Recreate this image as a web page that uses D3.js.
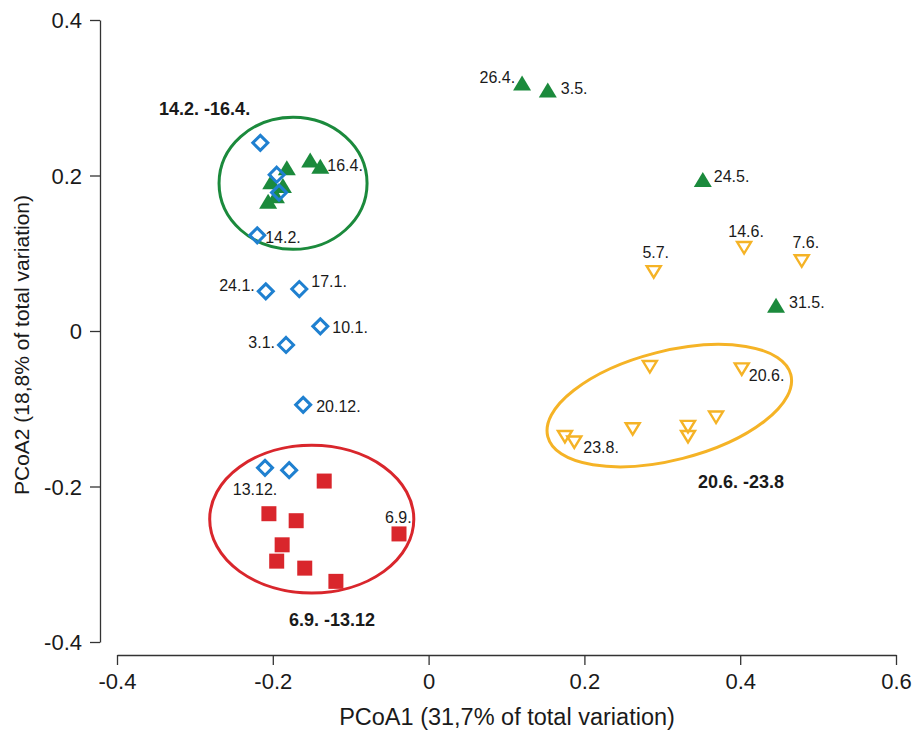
<!DOCTYPE html>
<html>
<head>
<meta charset="utf-8">
<script src="https://cdn.jsdelivr.net/npm/d3@7"></script>
<style>
  html, body { margin: 0; padding: 0; background: #fff; }
  svg { display: block; font-family: "Liberation Sans", Arial, sans-serif; }
</style>
</head>
<body>
<svg id="chart" width="914" height="735"></svg>
<script>
// ---------------- DATA ----------------
const xTicks = [-0.4, -0.2, 0, 0.2, 0.4, 0.6];
const yTicks = [-0.4, -0.2, 0, 0.2, 0.4];
const xTitle = "PCoA1 (31,7% of total variation)";
const yTitle = "PCoA2 (18,8% of total variation)";

// winter samples (blue open diamonds)
const winterPoints = [
  { x: -0.216, y: 0.242, label: "" },
  { x: -0.195, y: 0.201, label: "" },
  { x: -0.192, y: 0.178, label: "" },
  { x: -0.220, y: 0.123, label: "14.2." },
  { x: -0.209, y: 0.051, label: "24.1." },
  { x: -0.166, y: 0.054, label: "17.1." },
  { x: -0.139, y: 0.006, label: "10.1." },
  { x: -0.183, y: -0.018, label: "3.1." },
  { x: -0.161, y: -0.095, label: "20.12." },
  { x: -0.210, y: -0.176, label: "13.12." },
  { x: -0.179, y: -0.179, label: "" }
];

// spring samples (green filled triangles)
const springPoints = [
  { x: -0.182, y: 0.210, label: "" },
  { x: -0.152, y: 0.220, label: "" },
  { x: -0.139, y: 0.212, label: "16.4." },
  { x: -0.202, y: 0.192, label: "" },
  { x: -0.187, y: 0.187, label: "" },
  { x: -0.196, y: 0.174, label: "" },
  { x: -0.206, y: 0.167, label: "" },
  { x: 0.120, y: 0.319, label: "26.4." },
  { x: 0.153, y: 0.310, label: "3.5." },
  { x: 0.352, y: 0.195, label: "24.5." },
  { x: 0.446, y: 0.033, label: "31.5." }
];

// summer samples (yellow open down triangles)
const summerPoints = [
  { x: 0.289, y: 0.076, label: "5.7." },
  { x: 0.405, y: 0.107, label: "14.6." },
  { x: 0.479, y: 0.090, label: "7.6." },
  { x: 0.284, y: -0.046, label: "" },
  { x: 0.402, y: -0.049, label: "20.6." },
  { x: 0.369, y: -0.111, label: "" },
  { x: 0.262, y: -0.126, label: "" },
  { x: 0.333, y: -0.123, label: "" },
  { x: 0.333, y: -0.136, label: "" },
  { x: 0.175, y: -0.136, label: "" },
  { x: 0.187, y: -0.143, label: "23.8." }
];

// autumn samples (red filled squares)
const autumnPoints = [
  { x: -0.134, y: -0.193, label: "" },
  { x: -0.205, y: -0.235, label: "" },
  { x: -0.170, y: -0.244, label: "" },
  { x: -0.188, y: -0.275, label: "" },
  { x: -0.195, y: -0.296, label: "" },
  { x: -0.159, y: -0.305, label: "" },
  { x: -0.119, y: -0.322, label: "" },
  { x: -0.038, y: -0.261, label: "6.9." }
];

// cluster ellipses (centre, radii in data units, rotation in degrees)
const clusterEllipses = [
  { name: "spring", cx: -0.174, cy: 0.190, rx: 0.095, ry: 0.085, angle: 0 },
  { name: "autumn", cx: -0.150, cy: -0.242, rx: 0.131, ry: 0.095, angle: 0 },
  { name: "summer", cx: 0.309, cy: -0.096, rx: 0.161, ry: 0.070, angle: -14.3 }
];

// cluster titles
const clusterTitles = [
  { text: "14.2. -16.4.", x: -0.346, y: 0.278, anchor: "start" },
  { text: "6.9. -13.12", x: -0.124, y: -0.379, anchor: "middle" },
  { text: "20.6. -23.8", x: 0.401, y: -0.202, anchor: "middle" }
];

// ---------------- STYLE / LAYOUT ----------------
const colors = { winter: "#1f80d0", spring: "#1b8a3c", summer: "#f5b326", autumn: "#d9262c", text: "#1a1a1a", axis: "#333" };

// label placement offsets (pixels) relative to the marker
const labelOffsets = {
  "14.2.": [8, 8, "start"],
  "16.4.": [7, 5, "start"],
  "24.1.": [-11, 0, "end"],
  "17.1.": [12, -2, "start"],
  "10.1.": [12, 7, "start"],
  "3.1.": [-11, 3, "end"],
  "20.12.": [13, 7, "start"],
  "13.12.": [-10, 27, "middle"],
  "6.9.": [-14, -11, "start"],
  "23.8.": [9, 11, "start"],
  "20.6.": [7, 12, "start"],
  "26.4.": [-7, 0, "end"],
  "3.5.": [13, 4, "start"],
  "24.5.": [11, 3, "start"],
  "14.6.": [2, -11, "middle"],
  "5.7.": [2, -14, "middle"],
  "7.6.": [4, -13, "middle"],
  "31.5.": [13, 3, "start"]
};

const svg = d3.select("#chart");
const x = d3.scaleLinear().domain([-0.4, 0.6]).range([117, 896]);
const y = d3.scaleLinear().domain([-0.4, 0.4]).range([642, 20]);
const fmt = v => (Math.abs(v) < 1e-9 ? "0" : (v < 0 ? "-" : "") + Math.abs(v).toFixed(1));

// Axes
const gx = svg.append("g").attr("transform", "translate(0,655)")
  .call(d3.axisBottom(x).tickValues(xTicks).tickFormat(fmt).tickSize(10).tickSizeOuter(0).tickPadding(8));
const gy = svg.append("g").attr("transform", "translate(100,0)")
  .call(d3.axisLeft(y).tickValues(yTicks).tickFormat(fmt).tickSize(10).tickSizeOuter(0).tickPadding(8));
[gx, gy].forEach(g => {
  g.select(".domain").attr("stroke", colors.axis).attr("stroke-width", 1.3);
  g.selectAll(".tick line").attr("stroke", colors.axis).attr("stroke-width", 1.3);
  g.selectAll(".tick text").attr("fill", colors.text).style("font-size", "22px").style("font-family", "'Liberation Sans', Arial, sans-serif");
});
gy.selectAll(".tick text").attr("dy", "0.35em");

// Axis titles
svg.append("text").attr("x", 507).attr("y", 725).attr("text-anchor", "middle")
  .attr("fill", colors.text).style("font-size", "23.5px").text(xTitle);
svg.append("text").attr("transform", "translate(29,345) rotate(-90)").attr("text-anchor", "middle")
  .attr("fill", colors.text).style("font-size", "21px").text(yTitle);

// Ellipses
const ellColor = { spring: colors.spring, autumn: colors.autumn, summer: colors.summer };
svg.append("g").selectAll("ellipse").data(clusterEllipses).join("ellipse")
  .attr("transform", d => `translate(${x(d.cx)},${y(d.cy)}) rotate(${d.angle})`)
  .attr("rx", d => x(d.cx + d.rx) - x(d.cx))
  .attr("ry", d => y(d.cy - d.ry) - y(d.cy))
  .attr("fill", "none")
  .attr("stroke", d => ellColor[d.name])
  .attr("stroke-width", 3);

// marker paths
const triUp = (w, h) => `M0,${-h / 2}L${w / 2},${h / 2}L${-w / 2},${h / 2}Z`;
const triDown = (w, h) => `M${-w / 2},${-h / 2}L${w / 2},${-h / 2}L0,${h / 2}Z`;
const diamond = r => `M0,${-r}L${r},0L0,${r}L${-r},0Z`;

const gMarks = svg.append("g");
gMarks.append("g").selectAll("path").data(springPoints).join("path")
  .attr("transform", d => `translate(${x(d.x)},${y(d.y)})`)
  .attr("d", triUp(18, 15)).attr("fill", colors.spring);
gMarks.append("g").selectAll("path").data(summerPoints).join("path")
  .attr("transform", d => `translate(${x(d.x)},${y(d.y)})`)
  .attr("d", triDown(14, 11.5)).attr("fill", "none").attr("stroke", colors.summer)
  .attr("stroke-width", 2.4).attr("stroke-linejoin", "miter");
gMarks.append("g").selectAll("rect").data(autumnPoints).join("rect")
  .attr("x", d => x(d.x) - 7.5).attr("y", d => y(d.y) - 7.5)
  .attr("width", 15).attr("height", 15).attr("fill", colors.autumn);
gMarks.append("g").selectAll("path").data(winterPoints).join("path")
  .attr("transform", d => `translate(${x(d.x)},${y(d.y)})`)
  .attr("d", diamond(7.5)).attr("fill", "none").attr("stroke", colors.winter)
  .attr("stroke-width", 3);

// point labels
const allLabeled = [...winterPoints, ...springPoints, ...summerPoints, ...autumnPoints].filter(d => d.label);
svg.append("g").selectAll("text").data(allLabeled).join("text")
  .attr("x", d => x(d.x) + labelOffsets[d.label][0])
  .attr("y", d => y(d.y) + labelOffsets[d.label][1])
  .attr("text-anchor", d => labelOffsets[d.label][2])
  .attr("fill", colors.text).style("font-size", "16px")
  .text(d => d.label);

// cluster titles
svg.append("g").selectAll("text").data(clusterTitles).join("text")
  .attr("x", d => x(d.x)).attr("y", d => y(d.y))
  .attr("text-anchor", d => d.anchor)
  .attr("fill", colors.text).style("font-size", "18px").style("font-weight", "bold")
  .text(d => d.text);
</script>
</body>
</html>
